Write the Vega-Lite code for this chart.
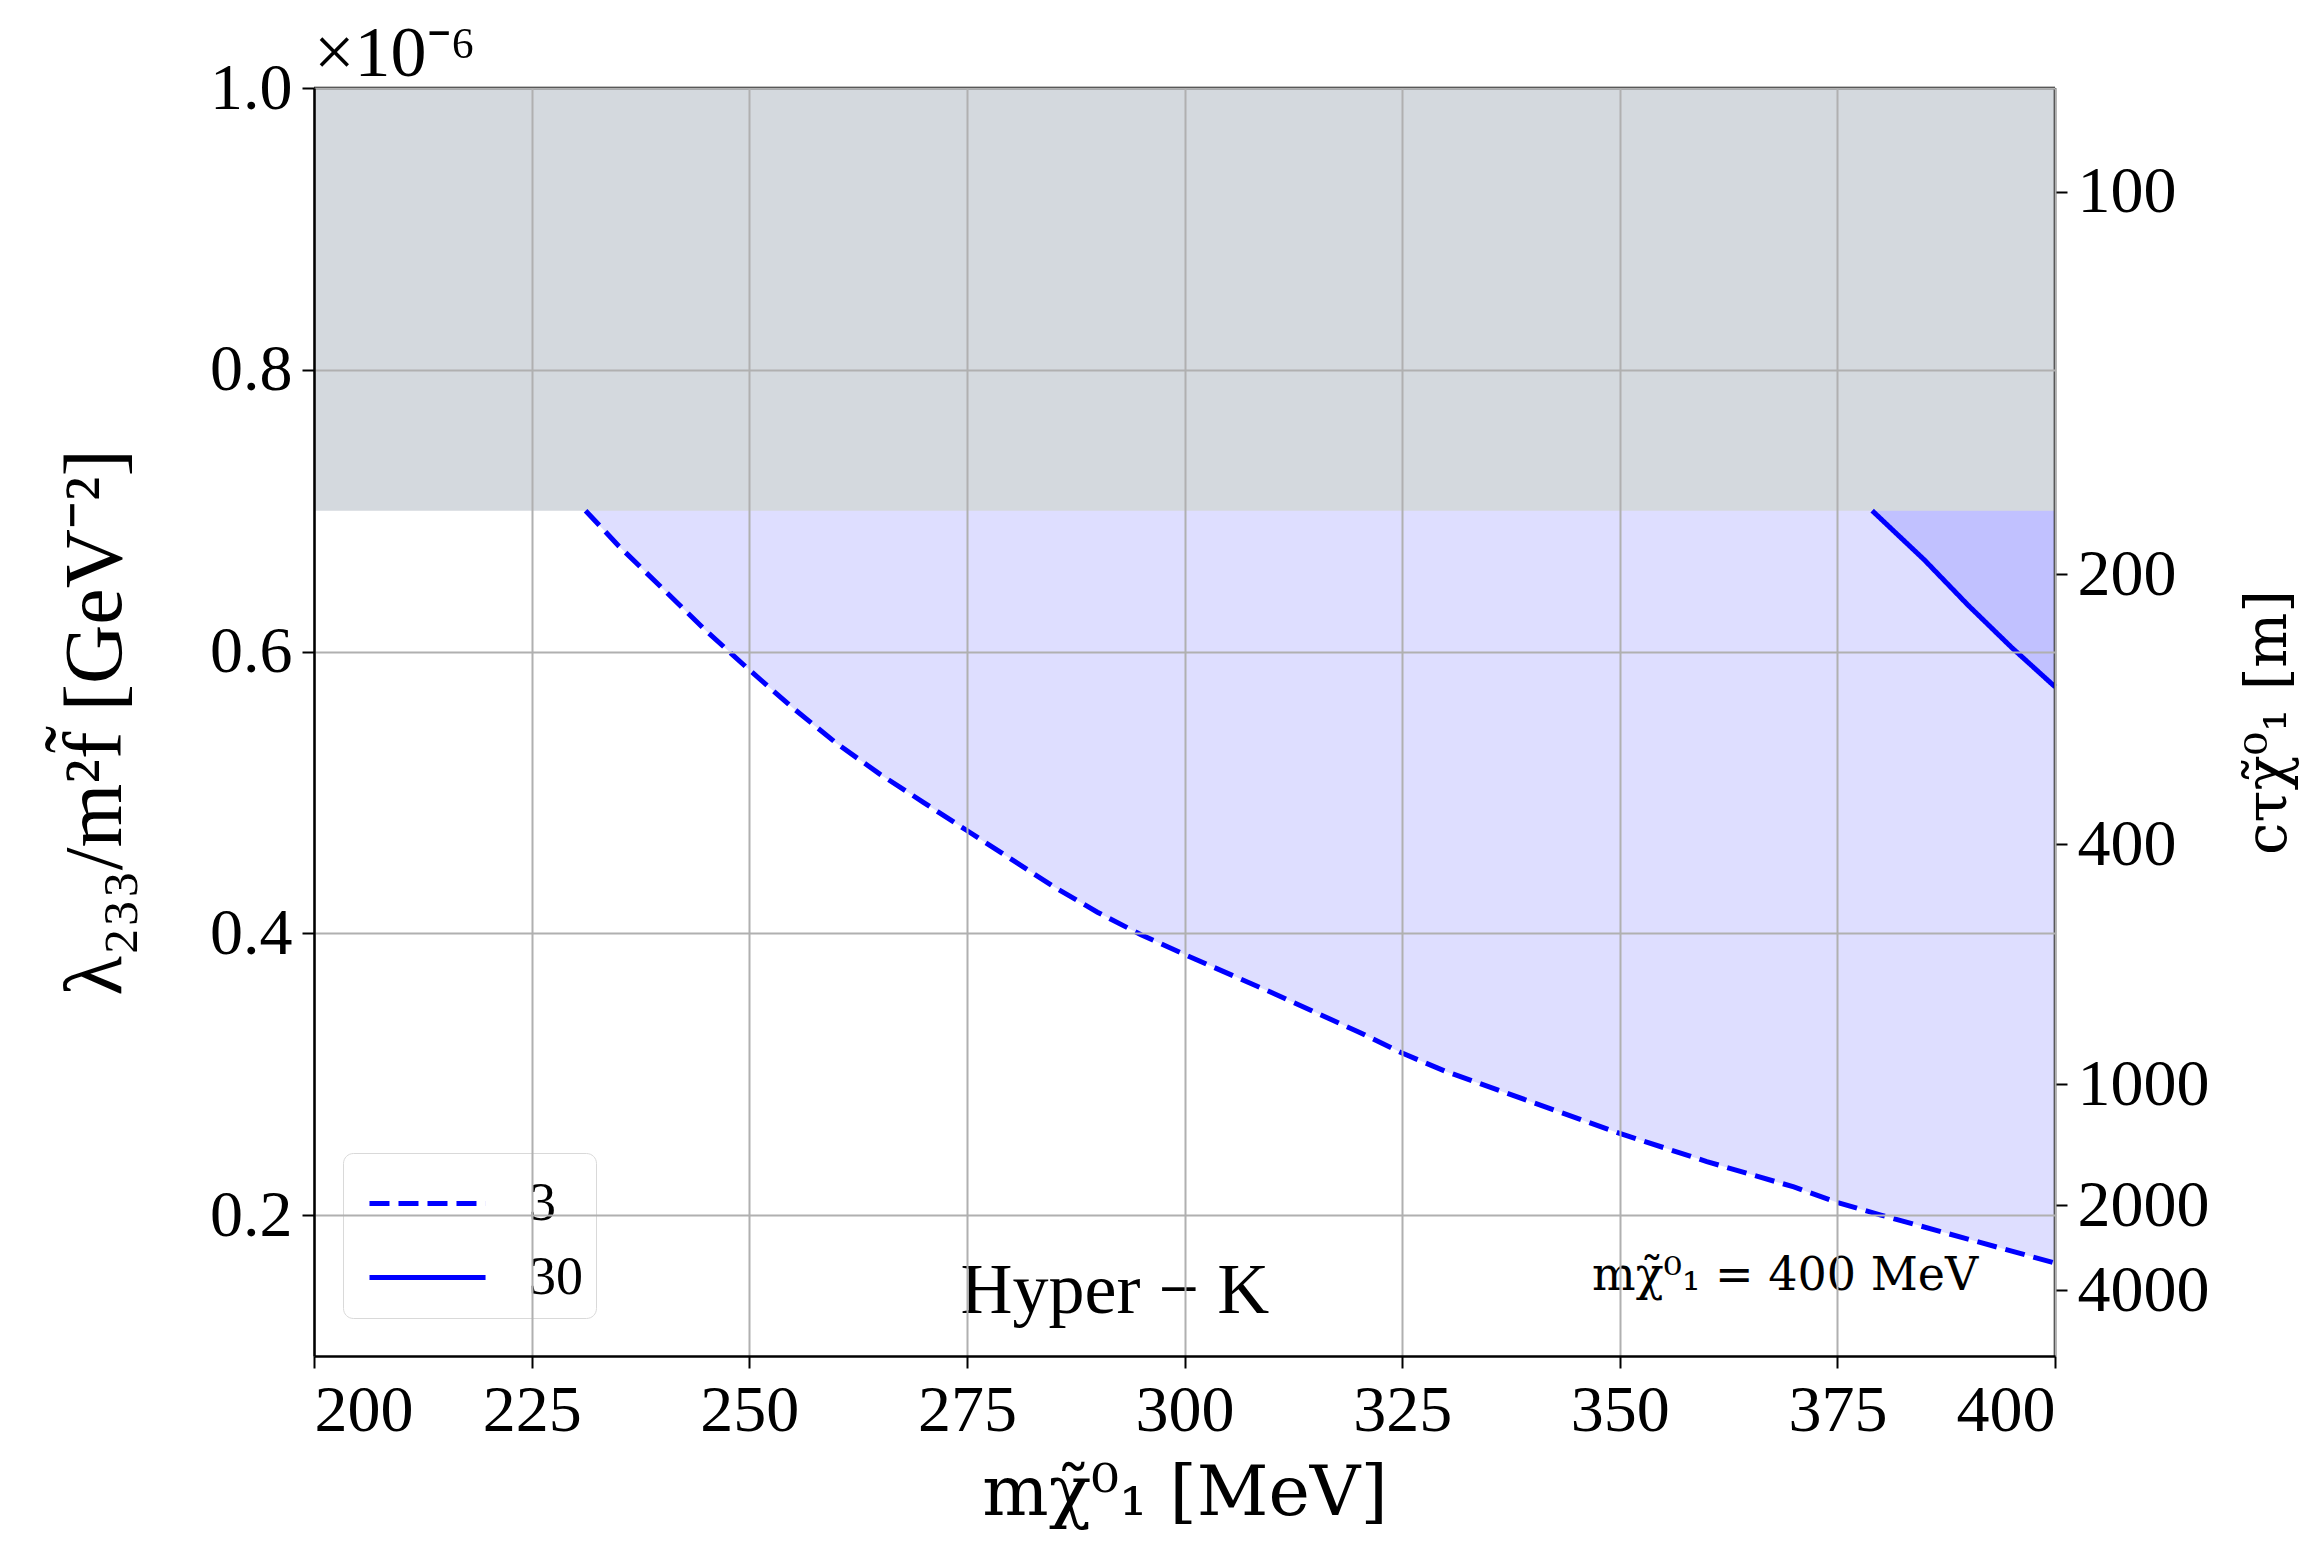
{
  "$schema": "https://vega.github.io/schema/vega-lite/v6.json",
  "width": 1741,
  "height": 1268,
  "autosize": {"type": "none"},
  "padding": {"left": 314, "top": 88, "right": 256, "bottom": 206},
  "background": "white",
  "config": {
    "view": {"stroke": null},
    "font": "Liberation Serif",
    "axis": {
      "labelFont": "Liberation Serif",
      "labelFontSize": 66,
      "labelColor": "black",
      "tickColor": "black",
      "tickSize": 12,
      "tickWidth": 2,
      "domainColor": "black",
      "domainWidth": 2.5,
      "gridColor": "#b0b0b0",
      "gridWidth": 2,
      "titleFont": "Liberation Serif",
      "titleFontSize": 84,
      "titleFontWeight": "normal",
      "titleColor": "black",
      "labelPadding": 10
    },
    "text": {"font": "Liberation Serif"}
  },
  "datasets": {
    "curves": [
      {"m": 231.2, "lam": 0.700, "series": "3"},
      {"m": 235, "lam": 0.675, "series": "3"},
      {"m": 240, "lam": 0.645, "series": "3"},
      {"m": 245, "lam": 0.615, "series": "3"},
      {"m": 250, "lam": 0.587, "series": "3"},
      {"m": 255, "lam": 0.560, "series": "3"},
      {"m": 260, "lam": 0.535, "series": "3"},
      {"m": 265, "lam": 0.513, "series": "3"},
      {"m": 270, "lam": 0.493, "series": "3"},
      {"m": 275, "lam": 0.473, "series": "3"},
      {"m": 280, "lam": 0.453, "series": "3"},
      {"m": 285, "lam": 0.433, "series": "3"},
      {"m": 290, "lam": 0.415, "series": "3"},
      {"m": 295, "lam": 0.399, "series": "3"},
      {"m": 300, "lam": 0.385, "series": "3"},
      {"m": 310, "lam": 0.358, "series": "3"},
      {"m": 320, "lam": 0.330, "series": "3"},
      {"m": 325, "lam": 0.315, "series": "3"},
      {"m": 330, "lam": 0.302, "series": "3"},
      {"m": 340, "lam": 0.280, "series": "3"},
      {"m": 350, "lam": 0.258, "series": "3"},
      {"m": 360, "lam": 0.238, "series": "3"},
      {"m": 370, "lam": 0.220, "series": "3"},
      {"m": 375, "lam": 0.209, "series": "3"},
      {"m": 380, "lam": 0.200, "series": "3"},
      {"m": 390, "lam": 0.183, "series": "3"},
      {"m": 400, "lam": 0.166, "series": "3"},
      {"m": 379, "lam": 0.700, "series": "30"},
      {"m": 385, "lam": 0.665, "series": "30"},
      {"m": 390, "lam": 0.633, "series": "30"},
      {"m": 395, "lam": 0.603, "series": "30"},
      {"m": 400, "lam": 0.575, "series": "30"}
    ],
    "one": [{"k": 1}]
  },
  "layer": [
    {
      "layer": [
        {
          "data": {"name": "one"},
          "mark": {"type": "rect", "fill": "#d4d9de"},
          "encoding": {
            "x": {
              "datum": 200, "type": "quantitative",
              "scale": {"domain": [200, 400], "nice": false, "zero": false},
              "axis": {
                "values": [200, 225, 250, 275, 300, 325, 350, 375, 400],
                "format": "d",
                "grid": true,
                "zindex": 1,
                "title": "mχ̃⁰₁ [MeV]",
                "titleFont": "DejaVu Serif",
                "titleFontSize": 70,
                "titlePadding": 16
              }
            },
            "x2": {"datum": 400},
            "y": {
              "datum": 0.7, "type": "quantitative",
              "scale": {"domain": [0.1, 1.0], "nice": false, "zero": false},
              "axis": {
                "values": [0.2, 0.4, 0.6, 0.8, 1.0],
                "format": ".1f",
                "grid": true,
                "zindex": 1,
                "title": "λ₂₃₃/m²f̃ [GeV⁻²]",
                "titleFontSize": 82,
                "titlePadding": 72
              }
            },
            "y2": {"datum": 1.0}
          }
        },
        {
          "data": {"name": "curves"},
          "mark": {"type": "area", "fill": "#0000ff", "fillOpacity": 0.13},
          "encoding": {
            "x": {"field": "m", "type": "quantitative"},
            "y": {"field": "lam", "type": "quantitative"},
            "y2": {"datum": 0.7},
            "detail": {"field": "series", "type": "nominal"}
          }
        },
        {
          "data": {"name": "curves"},
          "mark": {"type": "line", "stroke": "#0000ff", "strokeWidth": 5},
          "encoding": {
            "x": {"field": "m", "type": "quantitative"},
            "y": {"field": "lam", "type": "quantitative"},
            "strokeDash": {
              "field": "series", "type": "nominal",
              "scale": {"domain": ["3", "30"], "range": [[20, 9], [1, 0]]},
              "legend": {
                "orient": "none",
                "legendX": 29,
                "legendY": 1065,
                "title": null,
                "symbolType": "M-0.686,0H2.63",
                "symbolSize": 4900,
                "symbolStrokeColor": "#0000ff",
                "symbolStrokeWidth": 5,
                "labelFont": "Liberation Serif",
                "labelFontSize": 54,
                "labelColor": "black",
                "labelOffset": 98,
                "fillColor": "white",
                "strokeColor": "#d9d9d9",
                "cornerRadius": 10,
                "padding": 13,
                "rowPadding": 9
              }
            }
          }
        },
        {
          "data": {"name": "one"},
          "mark": {"type": "text", "text": "Hyper − K", "fontSize": 72, "align": "center", "baseline": "middle", "color": "black"},
          "encoding": {
            "x": {"datum": 292, "type": "quantitative"},
            "y": {"datum": 0.146, "type": "quantitative"}
          }
        },
        {
          "data": {"name": "one"},
          "mark": {"type": "text", "text": "mχ̃⁰₁ = 400 MeV", "font": "DejaVu Serif", "fontSize": 46, "align": "center", "baseline": "middle", "color": "black"},
          "encoding": {
            "x": {"datum": 369, "type": "quantitative"},
            "y": {"datum": 0.157, "type": "quantitative"}
          }
        },
        {
          "data": {"name": "one"},
          "mark": {"type": "text", "text": "×10⁻⁶", "fontSize": 72, "align": "left", "baseline": "alphabetic", "dy": -12, "color": "black"},
          "encoding": {
            "x": {"datum": 200, "type": "quantitative"},
            "y": {"datum": 1.0, "type": "quantitative"}
          }
        },
        {
          "data": {"name": "one"},
          "mark": {"type": "rule", "color": "black", "strokeWidth": 2.5},
          "encoding": {
            "x": {"datum": 200, "type": "quantitative"},
            "x2": {"datum": 400},
            "y": {"datum": 1.0, "type": "quantitative"}
          }
        }
      ]
    },
    {
      "data": {"name": "one"},
      "mark": {"type": "rule", "color": "black", "strokeWidth": 2.5},
      "encoding": {
        "x": {"datum": 400, "type": "quantitative"},
        "y": {
          "datum": 0.1, "type": "quantitative",
          "scale": {"domain": [0.1, 1.0], "nice": false, "zero": false},
          "axis": {
            "orient": "right",
            "values": [0.9263, 0.655, 0.4631, 0.2929, 0.2071, 0.1465],
            "labelExpr": "format(round(85.8/(datum.value*datum.value)/100)*100, 'd')",
            "grid": false,
            "domain": false,
            "title": "cτχ̃⁰₁ [m]",
            "titleFont": "DejaVu Serif",
            "titleFontSize": 58,
            "titleAngle": 270,
            "titleBaseline": "top",
            "titlePadding": 30
          }
        },
        "y2": {"datum": 1.0}
      }
    }
  ],
  "resolve": {"scale": {"y": "independent"}}
}
